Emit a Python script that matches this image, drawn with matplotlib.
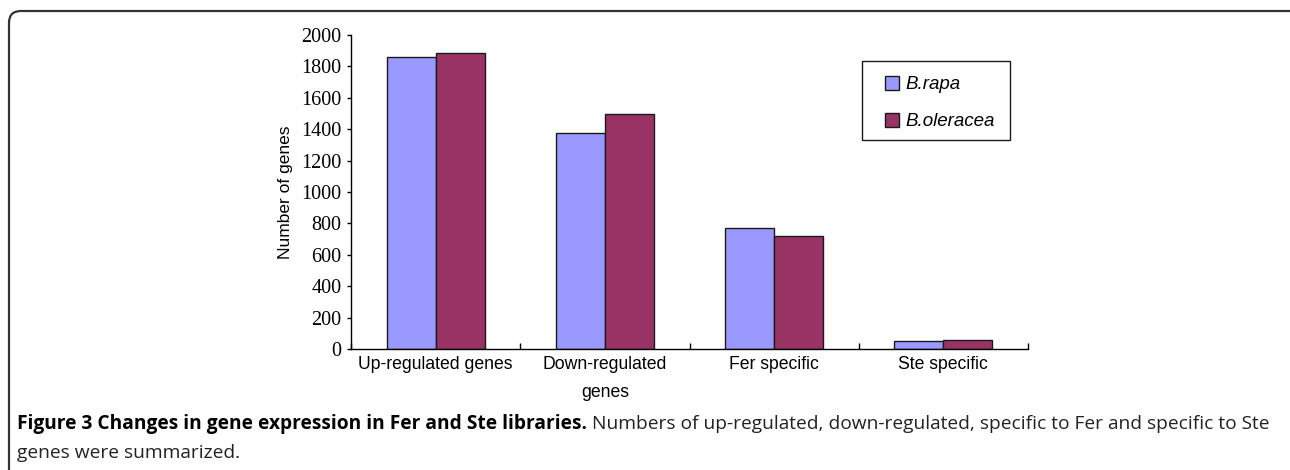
import numpy as np
import matplotlib.pyplot as plt
from matplotlib.patches import FancyBboxPatch, Rectangle

categories = ["Up-regulated genes", "Down-regulated\ngenes", "Fer specific", "Ste specific"]
b_rapa = [1860, 1375, 768, 50]
b_oleracea = [1885, 1495, 720, 58]
y_ticks = [0, 200, 400, 600, 800, 1000, 1200, 1400, 1600, 1800, 2000]

W, H = 1290, 470
fig = plt.figure(figsize=(W / 100, H / 100), dpi=100)

# rounded outer frame of the figure panel (pixel coords)
frame = FancyBboxPatch((9, -60), W + 40, H - 11 + 60,
                       boxstyle="round,pad=0,rounding_size=12",
                       transform=None, fill=False,
                       edgecolor="#333333", linewidth=1.6)
fig.patches.append(frame)

ax = fig.add_axes([351 / W, 1 - 349 / H, (1028 - 351) / W, (349 - 35) / H])

x = np.arange(len(categories))
w = 0.29
ax.bar(x - w / 2, b_rapa, w, color="#9999FF", edgecolor="#1a1a1a", linewidth=1, label="B.rapa")
ax.bar(x + w / 2, b_oleracea, w, color="#993366", edgecolor="#1a1a1a", linewidth=1, label="B.oleracea")

ax.set_xlim(-0.5, 3.5)
ax.set_ylim(0, 2000)
ax.set_yticks(y_ticks)
ax.set_yticklabels([str(v) for v in y_ticks], fontfamily="Liberation Serif", fontsize=14.5)
ax.tick_params(axis="y", direction="out", length=3, width=1, pad=4)

ax.set_xticks(x)
ax.set_xticklabels(categories, fontfamily="Liberation Sans", fontsize=12.7, linespacing=1.85)
ax.tick_params(axis="x", which="major", length=0, pad=5)
ax.set_xticks(np.arange(-0.5, 4.0, 1.0), minor=True)
ax.tick_params(axis="x", which="minor", direction="in", length=4, width=1)

for s in ["top", "right"]:
    ax.spines[s].set_visible(False)
for s in ["left", "bottom"]:
    ax.spines[s].set_linewidth(1)

ax.set_ylabel("Number of genes", fontfamily="Liberation Sans", fontsize=12.5, labelpad=6)

# legend without its own frame, box drawn separately
def ax_x(px):
    return (px - 351) / (1028 - 351)


def ax_y(py):
    return (349 - py) / (349 - 35)


leg = ax.legend(loc="upper left", bbox_to_anchor=(ax_x(885), ax_y(76)),
                prop={"family": "Liberation Sans", "style": "italic", "size": 13.5},
                frameon=False, handlelength=0.75, handleheight=0.75, handletextpad=0.35,
                labelspacing=1.05, borderpad=0, borderaxespad=0)
ax.add_patch(Rectangle((ax_x(862), ax_y(140)), ax_x(1010) - ax_x(862), ax_y(61) - ax_y(140),
                       transform=ax.transAxes, fill=False, edgecolor="#1a1a1a",
                       linewidth=1, clip_on=False))

fs = 13.8
y1 = 1 - 424 / H
bold = fig.text(17 / W, y1, "Figure 3 Changes in gene expression in Fer and Ste libraries.",
                fontfamily="Open Sans", fontweight="bold", fontsize=fs, va="center", ha="left")
fig.text(17 / W, 1 - 453 / H, "genes were summarized.",
         fontfamily="Open Sans", fontsize=fs, va="center", ha="left", color="#222222")

fig.canvas.draw()
bb = bold.get_window_extent()
fig.text((bb.x1 + 5) / W, y1,
         "Numbers of up-regulated, down-regulated, specific to Fer and specific to Ste",
         fontfamily="Open Sans", fontsize=fs, va="center", ha="left", color="#222222")

fig.savefig("out.png", dpi=100)
